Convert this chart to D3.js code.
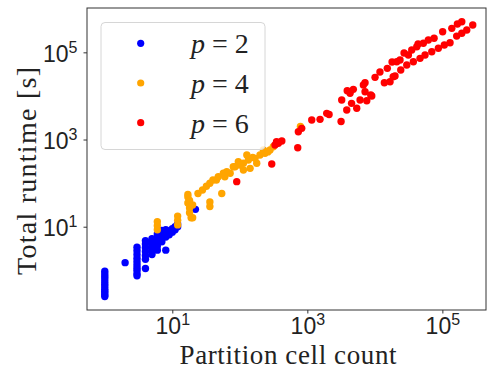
<!DOCTYPE html>
<html>
<head>
<meta charset="utf-8">
<script src="https://cdn.jsdelivr.net/npm/d3@7"></script>
<style>
  body { margin: 0; background: #fff; }
  svg { display: block; font-family: "Liberation Serif", "DejaVu Serif", serif; }
</style>
</head>
<body>
<div id="chart"></div>
<script>
// Scatter points: [partition cell count, total runtime in s]
const p2Points = [
  [1,0.25],[1,0.27],[1,0.3],[1,0.33],[1,0.37],[1,0.42],[1,0.48],[1,0.55],[1,0.63],[1,0.72],[1,0.82],[1,0.95],
  [2,1.5],
  [3,0.75],[3,0.85],[3,1.0],[3,1.15],[3,1.35],[3,1.6],[3,1.9],[3,2.3],[3,2.8],[3,3.4],
  [4,1.1],[4,1.8],[4,2.2],[4,2.7],[4,3.3],[4,4.0],[4,4.8],
  [5,2.3],[5,2.9],[5,3.5],[5,4.3],[5,5.3],
  [6,2.9],[6,3.6],[6,4.5],[6,5.5],[6,6.8],
  [7,4.5],[7,5.5],[7,6.8],[7,8.2],
  [8,2.9],[8,5.8],[8,7.0],[8,8.5],
  [9,6.5],[9,8.0],[10,7.5],[10,9.0],[11,8.5],[11,10],[12,10],[12,11.5],
  [22,25]
];
const p4Points = [
  [6,8.5],[6,10.5],[6,13],
  [12,11],[12,14],[12,17.5],
  [17,48],[17,35],[17,55],[18,27],[18,21],[18,40],[19,16],[20,16],[20,31.5],
  [24,58],[28,69.5],[32,85],[36,99],[36,37],[36,29],
  [54,58],[45,118],[57,168],[72,168],[85,238],[113,285],[134,339],[142,218],
  [168,370],[199,441],[236,482],[280,574],[313,684],[223,574],[127,441],
  [95,310],[80,238],[64,183],[48,140],[40,118],[113,200],[178,285],
  [60,140],[100,260],[155,390],[260,520],
  [790,2000]
];
const p6Points = [
  [90,108],[297,274],[332,748],[350,890],[372,818],[419,924],[721,649],[736,1510],[826,1806],
  [1162,2800],[1543,2905],[1937,3990],[2100,3750],[3160,2590],[3230,8050],[3835,4750],[3900,13200],
  [4295,11480],[4800,14170],[4520,6760],[5395,5200],[6040,8050],[6760,17800],[7590,7770],
  [7160,12480],[7160,20100],[8690,10500],[9000,10000],[10070,26700],[11900,35300],[13830,20100],
  [15300,42900],[16800,21200],[18000,59900],[18700,27700],[19900,28600],[21100,60800],[23600,66600],
  [24200,39300],[27100,96400],[29700,51100],[31400,86700],[35200,113000],[37200,60800],
  [41800,134000],[43700,155000],[46700,72800],[52300,161000],[55400,86700],[62000,192000],
  [69700,103000],[75400,210000],[87300,124000],[101000,297000],[107000,147000],[130000,166000],
  [138000,355000],[163000,236000],[167000,446000],[194000,503000],[194000,273000],
  [230000,325000],[282000,423000]
];
const seriesNames = ["2", "4", "6"];
const seriesColors = ["#0000ff", "#ffa500", "#ff0000"];
const xTicks = [1e1, 1e3, 1e5];
const yTicks = [1e1, 1e3, 1e5];

const width = 487, height = 374;
const margin = { left: 87, right: 1, top: 8, bottom: 64 };

const svg = d3.select("#chart").append("svg")
  .attr("width", width)
  .attr("height", height);

// log scales, domains match the matplotlib auto margins
const x = d3.scaleLog()
  .domain([0.545, 443000])
  .range([margin.left, width - margin.right]);
const y = d3.scaleLog()
  .domain([0.1229, 1.04e6])
  .range([height - margin.bottom, margin.top]);

// power-of-ten labels as 10 + superscript
function powerLabel(sel) {
  sel.each(function(d) {
    const t = d3.select(this).text("");
    t.append("tspan").text("10");
    t.append("tspan")
      .attr("dy", "-0.55em")
      .attr("font-size", "16px")
      .text(Math.round(Math.log10(d)));
  });
}

// points: p=2, then p=4, then p=6 on top
const allSeries = [p2Points, p4Points, p6Points];
allSeries.forEach((pts, i) => {
  svg.append("g")
    .selectAll("circle")
    .data(pts)
    .enter().append("circle")
    .attr("cx", d => x(d[0]))
    .attr("cy", d => y(d[1]))
    .attr("r", 3.7)
    .attr("fill", seriesColors[i]);
});

// axes
const xAxis = svg.append("g")
  .attr("transform", `translate(0,${height - margin.bottom})`)
  .call(d3.axisBottom(x).tickValues(xTicks).tickSize(3.5).tickPadding(4));
xAxis.selectAll("text")
  .attr("font-size", "23px")
  .attr("fill", "#222")
  .attr("dy", null)
  .attr("y", 24)
  .call(powerLabel);

const yAxis = svg.append("g")
  .attr("transform", `translate(${margin.left},0)`)
  .call(d3.axisLeft(y).tickValues(yTicks).tickSize(3.5).tickPadding(6));
yAxis.selectAll("text")
  .attr("font-size", "23px")
  .attr("fill", "#222")
  .attr("dy", null)
  .attr("y", 9)
  .call(powerLabel);

svg.selectAll(".domain").remove();
svg.selectAll(".tick line").attr("stroke", "#333");

// frame
svg.append("rect")
  .attr("x", margin.left)
  .attr("y", margin.top)
  .attr("width", width - margin.right - margin.left)
  .attr("height", height - margin.bottom - margin.top)
  .attr("fill", "none")
  .attr("stroke", "#333")
  .attr("stroke-width", 1);

// axis titles
svg.append("text")
  .attr("x", 288)
  .attr("y", 364)
  .attr("text-anchor", "middle")
  .attr("font-size", "27px")
  .attr("fill", "#222")
  .attr("textLength", 217)
  .text("Partition cell count");

svg.append("text")
  .attr("transform", "translate(36,171) rotate(-90)")
  .attr("text-anchor", "middle")
  .attr("font-size", "28px")
  .attr("fill", "#222")
  .attr("textLength", 208)
  .text("Total runtime [s]");

// legend
const legend = svg.append("g");
legend.append("rect")
  .attr("x", 101).attr("y", 22.5)
  .attr("width", 164).attr("height", 127)
  .attr("rx", 4)
  .attr("fill", "#fff").attr("fill-opacity", 0.8)
  .attr("stroke", "#d6d6d6");

seriesNames.forEach((name, i) => {
  const cy = 43.3 + i * 39.7;
  legend.append("circle")
    .attr("cx", 140.7).attr("cy", cy)
    .attr("r", 3.6)
    .attr("fill", seriesColors[i]);
  const t = legend.append("text")
    .attr("x", 191).attr("y", cy + 10)
    .attr("font-size", "28px")
    .attr("fill", "#222");
  t.append("tspan").attr("font-style", "italic").text("p");
  t.append("tspan").text(" = " + name);
});
</script>
</body>
</html>
